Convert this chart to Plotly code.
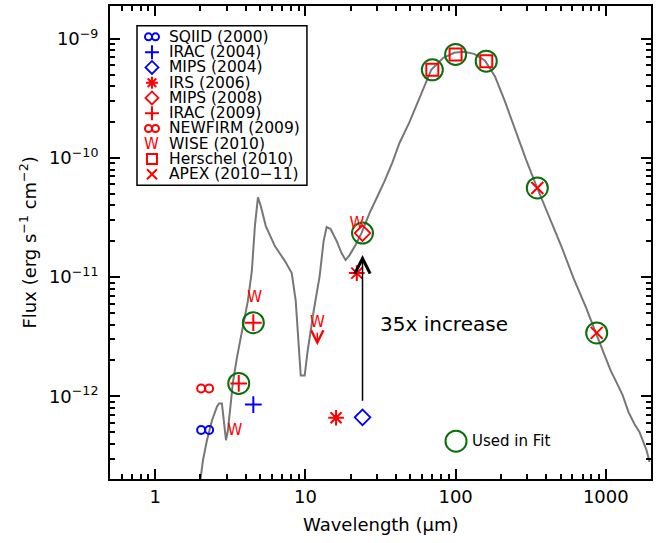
import numpy as np
import plotly.graph_objects as go

# ---------------- data ----------------
model_wave = [1.99, 2.08, 2.21, 2.39, 2.58, 2.66, 2.78, 2.87, 2.96, 3.05,
              3.15, 3.29, 3.50, 3.78, 4.14, 4.40, 4.61, 4.83, 5.05, 5.45,
              6.26, 7.29, 8.11, 8.62, 9.03, 9.31, 9.89, 10.36, 11.36, 12.44,
              13.22, 13.85, 14.72, 16.13, 17.41, 18.51, 19.68, 21.57, 23.63, 26.72,
              30.19, 33.59, 37.96, 42.24, 49.21, 57.35, 68.88, 82.74, 97.9, 114.0,
              132.9, 157.1, 183.2, 213.4, 248.6, 294.1, 347.9, 417.9, 502.2, 612.4,
              735.7, 857.0, 968.5, 1078, 1181, 1294, 1419, 1555, 1679, 1784,
              1868, 1956]
model_flux = [1.9e-13, 2.9e-13, 4.27e-13, 6.28e-13, 8.22e-13, 8.7e-13, 8.7e-13, 6.28e-13, 4.27e-13, 5.18e-13,
              7.32e-13, 1.30e-12, 2.11e-12, 3.55e-12, 6.32e-12, 1.13e-11, 2.68e-11, 4.68e-11, 3.94e-11, 2.68e-11,
              1.82e-11, 1.37e-11, 1.08e-11, 6.32e-12, 2.42e-12, 1.49e-12, 1.49e-12, 2.42e-12, 5.22e-12, 1.02e-11,
              2.01e-11, 2.63e-11, 2.53e-11, 2.01e-11, 1.59e-11, 1.39e-11, 1.53e-11, 1.86e-11, 2.34e-11, 3.44e-11,
              4.77e-11, 6.37e-11, 9.19e-11, 1.33e-10, 1.99e-10, 3.15e-10, 5.51e-10, 6.94e-10, 7.64e-10, 7.79e-10,
              7.49e-10, 6.55e-10, 4.81e-10, 2.97e-10, 1.73e-10, 9.73e-11, 5.68e-11, 3.31e-11, 1.86e-11, 9.66e-12,
              5.63e-12, 3.42e-12, 2.32e-12, 1.64e-12, 1.30e-12, 1.02e-12, 7.32e-13, 5.81e-13, 4.98e-13, 4.11e-13,
              3.52e-13, 2.80e-13]

sqiid_wave = [2.15];            sqiid_flux = [5.2e-13]
irac04_wave = [4.5];            irac04_flux = [8.5e-13]
mips04_wave = [24.0];           mips04_flux = [6.65e-13]
irs06_wave = [16.0, 22.0];      irs06_flux = [6.6e-13, 1.08e-11]
mips08_wave = [24.0];           mips08_flux = [2.34e-11]
irac09_wave = [3.6, 4.5];       irac09_flux = [1.28e-12, 4.14e-12]
newfirm_wave = [2.15];          newfirm_flux = [1.16e-12]
wise_wave = [3.4, 4.6, 12.0, 22.0]
wise_flux = [5.1e-13, 6.7e-12, 4.1e-12, 2.8e-11]
wise_upper = [False, False, True, False]
herschel_wave = [70.0, 100.0, 160.0]; herschel_flux = [5.5e-10, 7.4e-10, 6.5e-10]
apex_wave = [350.0, 870.0];     apex_flux = [5.6e-11, 3.4e-12]

fit_wave = irac09_wave + mips08_wave + herschel_wave + apex_wave
fit_flux = irac09_flux + mips08_flux + herschel_flux + apex_flux

legend_labels = ["SQIID (2000)", "IRAC (2004)", "MIPS (2004)", "IRS (2006)", "MIPS (2008)",
                 "IRAC (2009)", "NEWFIRM (2009)", "WISE (2010)", "Herschel (2010)", "APEX (2010\u221211)"]
increase_label = "35x increase"

x_ticks = [1, 10, 100, 1000]
y_ticks = [1e-12, 1e-11, 1e-10, 1e-9]
y_ticktext = ["10<sup>\u221212</sup>", "10<sup>\u221211</sup>", "10<sup>\u221210</sup>", "10<sup>\u22129</sup>"]

# ---------------- styling ----------------
BLUE = "#0000ff"
RED = "#ff0000"
GREEN = "#0a6e0a"
GREY = "#777777"
FONT = "DejaVu Sans"

fig = go.Figure()

# model curve
fig.add_trace(go.Scatter(x=model_wave, y=model_flux, mode="lines",
                         line=dict(color=GREY, width=2), hoverinfo="skip"))


def add_inf(wave, flux, color, xa="x", ya="y", off=1.063, size=8, additive=False):
    """'infinity' symbol drawn as two small open circles side by side."""
    w = np.asarray(wave, dtype=float)
    shifts = (-off, off) if additive else (1.0 / off, off)
    for s in shifts:
        xs = w + s if additive else w * s
        fig.add_trace(go.Scatter(x=xs, y=flux, mode="markers", xaxis=xa, yaxis=ya,
                                 marker=dict(symbol="circle-open", size=size, color=color,
                                             line=dict(color=color, width=2)),
                                 hoverinfo="skip"))


def add_mark(wave, flux, symbol, color, size, width=2, xa="x", ya="y"):
    fig.add_trace(go.Scatter(x=wave, y=flux, mode="markers", xaxis=xa, yaxis=ya,
                             marker=dict(symbol=symbol, size=size, color=color,
                                         line=dict(color=color, width=width)),
                             hoverinfo="skip"))


# fit circles
add_mark(fit_wave, fit_flux, "circle-open", GREEN, 21, 2)

add_inf(sqiid_wave, sqiid_flux, BLUE)
add_mark(irac04_wave, irac04_flux, "cross-thin", BLUE, 12)
add_mark(mips04_wave, mips04_flux, "diamond-open", BLUE, 12, 1.8)
add_mark(irs06_wave, irs06_flux, "asterisk", RED, 13)
add_mark(mips08_wave, mips08_flux, "diamond-open", RED, 12, 1.8)
add_mark(irac09_wave, irac09_flux, "cross-thin", RED, 12)
add_inf(newfirm_wave, newfirm_flux, RED)
fig.add_trace(go.Scatter(x=wise_wave, y=wise_flux, mode="text", text=["W"] * len(wise_wave),
                         textposition="middle center",
                         textfont=dict(color=RED, size=15, family=FONT), hoverinfo="skip"))
add_mark(herschel_wave, herschel_flux, "square-open", RED, 12)
add_mark(apex_wave, apex_flux, "x-thin", RED, 12)

annotations = []
# upper-limit arrow for WISE
for w, f, up in zip(wise_wave, wise_flux, wise_upper):
    if up:
        annotations.append(dict(x=np.log10(w), y=np.log10(f), xref="x", yref="y", text="",
                                showarrow=True, ax=0, ay=-14, yshift=-22,
                                arrowhead=5, arrowsize=1.6, arrowwidth=1.5, arrowcolor=RED))
# 35x increase arrow
annotations.append(dict(x=np.log10(mips08_wave[0]), y=np.log10(mips08_flux[0]),
                        ax=np.log10(mips04_wave[0]), ay=np.log10(mips04_flux[0]),
                        xref="x", yref="y", axref="x", ayref="y", text="",
                        showarrow=True, arrowhead=5, arrowsize=2.0, arrowwidth=1.5,
                        arrowcolor="black", standoff=22, startstandoff=15))
annotations.append(dict(x=0.4954, y=0.3284, xref="paper", yref="paper", text=increase_label,
                        showarrow=False, xanchor="left", yanchor="middle",
                        font=dict(size=20, family=FONT, color="black")))

# ---------------- custom legend (overlay axes in paper units) ----------------
leg_sym_x = 0.0776
leg_txt_x = 0.1054
leg_y = [(479 - (35 + i * 15.33)) / 475.0 for i in range(len(legend_labels))]
SZ = 10
add_inf([leg_sym_x], [leg_y[0]], BLUE, "x2", "y2", off=0.0065, size=7, additive=True)
add_mark([leg_sym_x], [leg_y[1]], "cross-thin", BLUE, SZ, 2, "x2", "y2")
add_mark([leg_sym_x], [leg_y[2]], "diamond-open", BLUE, SZ, 1.8, "x2", "y2")
add_mark([leg_sym_x], [leg_y[3]], "asterisk", RED, SZ, 2, "x2", "y2")
add_mark([leg_sym_x], [leg_y[4]], "diamond-open", RED, SZ, 1.8, "x2", "y2")
add_mark([leg_sym_x], [leg_y[5]], "cross-thin", RED, SZ, 2, "x2", "y2")
add_inf([leg_sym_x], [leg_y[6]], RED, "x2", "y2", off=0.0065, size=7, additive=True)
add_mark([leg_sym_x], [leg_y[8]], "square-open", RED, SZ, 2, "x2", "y2")
add_mark([leg_sym_x], [leg_y[9]], "x-thin", RED, SZ, 2, "x2", "y2")
annotations.append(dict(x=leg_sym_x, y=leg_y[7], xref="paper", yref="paper", text="W",
                        showarrow=False, xanchor="center", yanchor="middle",
                        font=dict(size=15, family=FONT, color=RED)))
for lab, yy in zip(legend_labels, leg_y):
    annotations.append(dict(x=leg_txt_x, y=yy, xref="paper", yref="paper", text=lab,
                            showarrow=False, xanchor="left", yanchor="middle",
                            font=dict(size=15.5, family=FONT, color="black")))
# "Used in Fit" key
add_mark([0.6396], [0.08], "circle-open", GREEN, 21, 2, "x2", "y2")
annotations.append(dict(x=0.665, y=0.08, xref="paper", yref="paper", text="Used in Fit",
                        showarrow=False, xanchor="left", yanchor="middle",
                        font=dict(size=15, family=FONT, color="black")))

# axis titles
annotations.append(dict(x=0.5, y=-0.097, xref="paper", yref="paper", text="Wavelength (\u03bcm)",
                        showarrow=False, xanchor="center", yanchor="middle",
                        font=dict(size=18, family=FONT, color="black")))
annotations.append(dict(x=-0.1516, y=0.5, xref="paper", yref="paper",
                        text="Flux (erg s<sup>\u22121</sup> cm<sup>\u22122</sup>)", textangle=-90,
                        showarrow=False, xanchor="center", yanchor="middle",
                        font=dict(size=18, family=FONT, color="black")))

shapes = [dict(type="rect", xref="paper", yref="paper", x0=0.0499, x1=0.364, y0=0.621, y1=0.958,
               line=dict(color="black", width=1.5), fillcolor="rgba(0,0,0,0)")]

x_minor = [m * 10.0 ** e for e in range(-1, 4) for m in range(2, 10) if 0.5 < m * 10.0 ** e < 2000]
y_minor = [m * 10.0 ** e for e in range(-13, -8) for m in range(2, 10) if 2.05e-13 < m * 10.0 ** e < 1.85e-9]

axis_common = dict(showline=True, linewidth=2, linecolor="black", mirror="allticks",
                   ticks="inside", ticklen=10, tickwidth=1.5, tickcolor="black",
                   showgrid=False, zeroline=False,
                   tickfont=dict(size=18, family=FONT, color="black"))

fig.update_layout(
    width=670, height=543,
    margin=dict(l=110, r=19, t=4, b=64),
    plot_bgcolor="white", paper_bgcolor="white",
    showlegend=False,
    font=dict(family=FONT, color="black"),
    xaxis=dict(type="log", range=[np.log10(0.5), np.log10(2000)],
               tickvals=x_ticks, ticktext=[str(v) for v in x_ticks],
               minor=dict(tickvals=x_minor, ticks="inside", ticklen=5, tickwidth=1.5,
                          tickcolor="black", showgrid=False),
               **axis_common),
    yaxis=dict(type="log", range=[-12.695, -8.724],
               tickvals=y_ticks, ticktext=y_ticktext,
               minor=dict(tickvals=y_minor, ticks="inside", ticklen=5, tickwidth=1.5,
                          tickcolor="black", showgrid=False),
               ticklabelstandoff=6,
               **axis_common),
    xaxis2=dict(overlaying="x", range=[0, 1], visible=False, anchor="y"),
    yaxis2=dict(overlaying="y", range=[0, 1], visible=False, anchor="x"),
    annotations=annotations,
    shapes=shapes,
)

fig.write_html("out.html", config={"displayModeBar": False},
               post_script="document.body.style.margin='0px';")
